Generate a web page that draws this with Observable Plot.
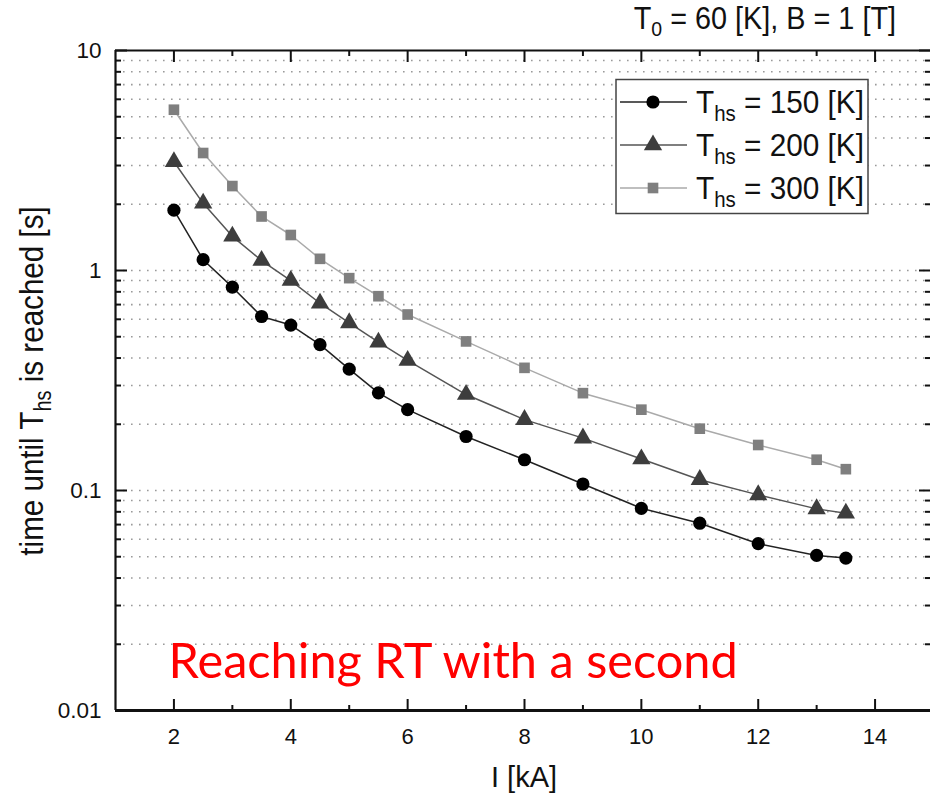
<!DOCTYPE html>
<html><head><meta charset="utf-8">
<script src="https://cdn.jsdelivr.net/npm/d3@7"></script>
<script src="https://cdn.jsdelivr.net/npm/@observablehq/plot@0.6"></script>
<style>body{margin:0;background:#fff;overflow:hidden}</style>
</head><body><div id="chart"></div>
<script>
// ---- data ----
const currents = [2, 2.5, 3, 3.5, 4, 4.5, 5, 5.5, 6, 7, 8, 9, 10, 11, 12, 13, 13.5];
const t150 = [1.88, 1.12, 0.84, 0.618, 0.565, 0.46, 0.356, 0.278, 0.233, 0.176, 0.138, 0.107, 0.083, 0.071, 0.0573, 0.0507, 0.0493];
const t200 = [3.12, 2.02, 1.43, 1.11, 0.90, 0.71, 0.578, 0.472, 0.39, 0.273, 0.210, 0.173, 0.139, 0.112, 0.0955, 0.0825, 0.0788];
const t300 = [5.38, 3.42, 2.42, 1.76, 1.45, 1.13, 0.923, 0.764, 0.631, 0.476, 0.361, 0.277, 0.233, 0.191, 0.161, 0.138, 0.125];
const seriesLabels = ["150", "200", "300"];
const yMajor = [0.01, 0.1, 1, 10];
const yMinor = [0.02,0.03,0.04,0.05,0.06,0.07,0.08,0.09,0.2,0.3,0.4,0.5,0.6,0.7,0.8,0.9,2,3,4,5,6,7,8,9];
const yGrid = [0.02,0.03,0.04,0.05,0.06,0.07,0.08,0.09,0.1,0.2,0.3,0.4,0.5,0.6,0.7,0.8,0.9,1,2,3,4,5,6,7,8,9];
const xMajor = [2, 4, 6, 8, 10, 12, 14];
const xMinor = [3, 5, 7, 9, 11, 13];
const titleText = ["T", "0", " = 60 [K], B = 1 [T]"];
const yLabelText = ["time until T", "hs", " is reached [s]"];
const xLabelText = "I [kA]";
const noteText = "Reaching RT with a second";

const FONT = "'Liberation Sans', Arial, sans-serif";
const measure = (font, s) => { const c = document.createElement("canvas").getContext("2d"); c.font = font; return c.measureText(s).width; };
const noteFont = "Lato, 'Open Sans', sans-serif";
const noteSize = 44 * 572 / measure(`44px ${noteFont}`, noteText);

const styles = [
  {line: "#222", fill: "#000", symbol: "circle", r: 6.6},
  {line: "#555", fill: "#3d3d3d", symbol: "triangle", r: 6.8},
  {line: "#aaa", fill: "#7f7f7f", symbol: "square", r: 6.0}
];
const seriesValues = [t150, t200, t300];
const rows = seriesLabels.flatMap((s, j) => currents.map((I, i) => ({I, t: seriesValues[j][i], series: s})));

const marks = [
  Plot.ruleY(yGrid, {stroke: "#9a9a9a", strokeWidth: 1.6, strokeDasharray: "1.6,6.4"}),
];
seriesLabels.forEach((s, j) => {
  const d = rows.filter(r => r.series === s);
  marks.push(Plot.line(d, {x: "I", y: "t", stroke: styles[j].line, strokeWidth: 1.5}));
});
seriesLabels.forEach((s, j) => {
  const d = rows.filter(r => r.series === s);
  marks.push(Plot.dot(d, {x: "I", y: "t", symbol: styles[j].symbol, fill: styles[j].fill, r: styles[j].r, stroke: "none"}));
});
marks.push(
  Plot.ruleX([1], {stroke: "#111", strokeWidth: 2.2}),
  Plot.ruleY([10], {stroke: "#111", strokeWidth: 2.2}),
  Plot.ruleY([0.01], {stroke: "#111", strokeWidth: 3}),
  Plot.axisY(yMajor, {anchor: "left", tickSize: 0, tickPadding: 14, fontSize: 22.5, tickFormat: d => String(d), label: null}),
  Plot.axisY(yMajor, {anchor: "left", tickSize: -12, text: null, strokeWidth: 2, label: null}),
  Plot.axisY(yMinor, {anchor: "left", tickSize: -6, text: null, strokeWidth: 2, label: null}),
  Plot.axisY(yMajor, {anchor: "right", tickSize: -12, text: null, strokeWidth: 2, label: null}),
  Plot.axisY(yMinor, {anchor: "right", tickSize: -6, text: null, strokeWidth: 2, label: null}),
  Plot.axisX(xMajor, {anchor: "bottom", tickSize: 0, tickPadding: 18, fontSize: 22, label: null}),
  Plot.axisX(xMajor, {anchor: "bottom", tickSize: -11, text: null, strokeWidth: 2, label: null}),
  Plot.axisX(xMinor, {anchor: "bottom", tickSize: -5, text: null, strokeWidth: 2, label: null}),
  Plot.axisX(xMajor, {anchor: "top", tickSize: -11, text: null, strokeWidth: 2, label: null}),
  Plot.axisX(xMinor, {anchor: "top", tickSize: -5, text: null, strokeWidth: 2, label: null}),
  Plot.text([noteText], {frameAnchor: "bottom-left", dx: 53, dy: -33, lineAnchor: "bottom", textAnchor: "start", fill: "#ff0000", fontSize: noteSize, fontFamily: noteFont})
);

const plot = Plot.plot({
  width: 930, height: 796,
  marginLeft: 115, marginRight: 0, marginTop: 50, marginBottom: 86,
  style: {fontFamily: FONT, color: "#111", background: "#fff", overflow: "visible"},
  x: {domain: [1, 15], range: [115, 933], label: null},
  y: {type: "log", domain: [0.01, 10], label: null},
  marks
});
document.getElementById("chart").append(plot);

// ---- texts with subscripts, legend (drawn into the SVG) ----
const svg = d3.select(plot);
const label = (transform, size, anchor) => svg.append("text").attr("transform", transform)
  .attr("text-anchor", anchor).attr("font-family", FONT).attr("font-size", size).attr("fill", "#111");
const sub = (sel, parts, small, shift) => {
  sel.append("tspan").text(parts[0]);
  sel.append("tspan").attr("font-size", small).attr("dy", shift).text(parts[1]);
  sel.append("tspan").attr("dy", -shift).text(parts[2]);
};
sub(label("translate(896,29) scale(0.93,1)", 31, "end"), titleText, 21, 7);
sub(label("translate(43,381) rotate(-90) scale(0.87,1)", 34, "middle"), yLabelText, 23, 8);
label("translate(524,787)", 29, "middle").text(xLabelText);

const lg = svg.append("g");
lg.append("rect").attr("x", 616).attr("y", 79.5).attr("width", 252).attr("height", 134)
  .attr("fill", "#fff").attr("stroke", "#444").attr("stroke-width", 1.5);
const symMap = {circle: d3.symbolCircle, triangle: d3.symbolTriangle, square: d3.symbolSquare};
seriesLabels.forEach((s, j) => {
  const cy = 102 + j * 43;
  lg.append("line").attr("x1", 620).attr("x2", 687).attr("y1", cy).attr("y2", cy)
    .attr("stroke", styles[j].line).attr("stroke-width", 1.5);
  lg.append("path").attr("transform", `translate(653,${cy})`)
    .attr("d", d3.symbol(symMap[styles[j].symbol], Math.PI * styles[j].r * styles[j].r)())
    .attr("fill", styles[j].fill);
  const t = lg.append("text").attr("transform", `translate(696,${cy + 11}) scale(0.93,1)`)
    .attr("text-anchor", "start").attr("font-family", FONT).attr("font-size", 32).attr("fill", "#111");
  sub(t, ["T", "hs", ` = ${s} [K]`], 22, 8);
});
</script>
</body></html>
